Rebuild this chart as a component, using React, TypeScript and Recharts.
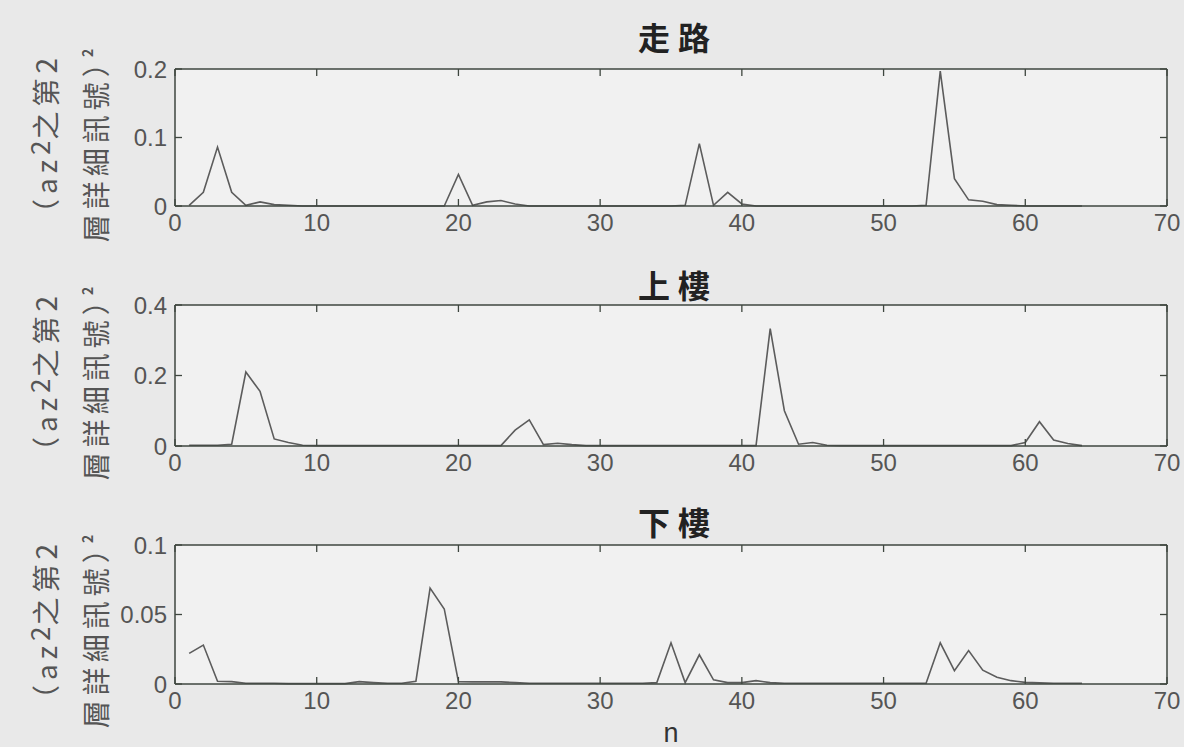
import React from "react";
import { LineChart, Line, XAxis, YAxis, CartesianGrid } from "recharts";

// n = 1..64
const N = [
  1, 2, 3, 4, 5, 6, 7, 8, 9, 10, 11, 12, 13, 14, 15, 16,
  17, 18, 19, 20, 21, 22, 23, 24, 25, 26, 27, 28, 29, 30, 31, 32,
  33, 34, 35, 36, 37, 38, 39, 40, 41, 42, 43, 44, 45, 46, 47, 48,
  49, 50, 51, 52, 53, 54, 55, 56, 57, 58, 59, 60, 61, 62, 63, 64,
];

// 走路
const WALK = [
  0.001, 0.02, 0.086, 0.02, 0.001, 0.006, 0.002, 0.001, 0, 0, 0, 0, 0, 0, 0, 0,
  0, 0, 0, 0.046, 0.001, 0.006, 0.008, 0.003, 0, 0, 0, 0, 0, 0, 0, 0,
  0, 0, 0, 0.001, 0.091, 0.001, 0.02, 0.003, 0, 0, 0, 0, 0, 0, 0, 0,
  0, 0, 0, 0, 0.001, 0.197, 0.04, 0.009, 0.007, 0.002, 0.001, 0, 0, 0, 0, 0,
];

// 上樓
const UP = [
  0.002, 0.002, 0.002, 0.005, 0.21, 0.155, 0.02, 0.01, 0.002, 0.001, 0.001, 0.001, 0.001, 0.001, 0.001, 0.001,
  0.001, 0.001, 0.001, 0.001, 0.001, 0.001, 0.001, 0.045, 0.074, 0.004, 0.008, 0.004, 0.001, 0.001, 0.001, 0.001,
  0.001, 0.001, 0.001, 0.001, 0.001, 0.001, 0.001, 0.001, 0.001, 0.333, 0.1, 0.005, 0.01, 0.002, 0.001, 0.001,
  0.001, 0.001, 0.001, 0.001, 0.001, 0.001, 0.001, 0.001, 0.001, 0.001, 0.001, 0.01, 0.069, 0.017, 0.007, 0.001,
];

// 下樓
const DOWN = [
  0.022, 0.028, 0.002, 0.0017, 0.0005, 0.0005, 0.0005, 0.0003, 0.0003, 0.0003, 0.0003, 0.0003, 0.0017, 0.001, 0.0005, 0.0005,
  0.002, 0.069, 0.054, 0.0017, 0.0015, 0.0015, 0.0015, 0.001, 0.0005, 0.0005, 0.0005, 0.0005, 0.0005, 0.0005, 0.0005, 0.0005,
  0.0005, 0.001, 0.0296, 0.001, 0.021, 0.003, 0.001, 0.001, 0.0024, 0.001, 0.0005, 0.0005, 0.0005, 0.0005, 0.0005, 0.0005,
  0.0005, 0.0005, 0.0005, 0.0005, 0.0005, 0.0296, 0.0096, 0.024, 0.01, 0.0048, 0.0024, 0.0012, 0.0008, 0.0005, 0.0005, 0.0005,
];

const X_TICKS = [0, 10, 20, 30, 40, 50, 60, 70];
const TITLES = ["走路", "上樓", "下樓"];
const Y_TICKS = [
  [0, 0.1, 0.2],
  [0, 0.2, 0.4],
  [0, 0.05, 0.1],
];

const AXIS = "#3e463f";
const LINE = "#5c5c5c";
const NUM_FONT = "'Liberation Sans', Arial, sans-serif";
const CJK_FONT = "'Noto Sans CJK TC', 'Noto Sans CJK SC', sans-serif";
const CHART_W = 1184;
const M_LEFT = 115;
const M_RIGHT = 17;
const Y_W = 60;
const TICK_LEN = 7;

// matlab style: label outside, tick marks inside on both sides of the box
function XTick({ x, y, payload, plotH }: any) {
  return (
    <g>
      <line x1={x} y1={y} x2={x} y2={y - TICK_LEN} stroke={AXIS} strokeWidth={1.3} />
      <line x1={x} y1={y - plotH} x2={x} y2={y - plotH + TICK_LEN} stroke={AXIS} strokeWidth={1.3} />
      <text x={x} y={y + 8} dy="0.71em" textAnchor="middle" fontSize={24} fill="#555" fontFamily={NUM_FONT}>
        {payload.value}
      </text>
    </g>
  );
}

function YTick({ x, y, payload, plotW }: any) {
  return (
    <g>
      <line x1={x} y1={y} x2={x + TICK_LEN} y2={y} stroke={AXIS} strokeWidth={1.3} />
      <line x1={x + plotW} y1={y} x2={x + plotW - TICK_LEN} y2={y} stroke={AXIS} strokeWidth={1.3} />
      <text x={x - 8} y={y} dy="0.36em" textAnchor="end" fontSize={24} fill="#555" fontFamily={NUM_FONT}>
        {String(payload.value)}
      </text>
    </g>
  );
}

function Panel({ values, yTicks, top, height, marginTop, marginBottom, xHeight, xLabel }: any) {
  const data = N.map((n, i) => ({ n, v: values[i] }));
  const yMax = yTicks[yTicks.length - 1];
  const plotH = height - marginTop - marginBottom - xHeight;
  const plotW = CHART_W - M_LEFT - M_RIGHT - Y_W;
  const frame = { stroke: AXIS, strokeWidth: 1.5 };
  return (
    <div style={{ position: "absolute", left: 0, top }}>
      <LineChart
        width={CHART_W}
        height={height}
        data={data}
        margin={{ top: marginTop, right: M_RIGHT, bottom: marginBottom, left: M_LEFT }}
      >
        <CartesianGrid horizontal={false} vertical={false} fill="#f1f1f1" />
        <XAxis
          xAxisId="x"
          dataKey="n"
          type="number"
          domain={[0, 70]}
          ticks={X_TICKS}
          interval={0}
          height={xHeight}
          tickSize={0}
          tickMargin={0}
          tickLine={false}
          axisLine={frame}
          tick={(p: any) => <XTick {...p} plotH={plotH} />}
          label={xLabel ? { value: xLabel, position: "insideBottom", offset: 2, style: { fontSize: 27, fill: "#333", fontFamily: NUM_FONT } } : undefined}
        />
        <XAxis xAxisId="xt" orientation="top" type="number" domain={[0, 70]} height={1} mirror tick={false} tickLine={false} axisLine={frame} />
        <YAxis
          yAxisId="y"
          type="number"
          width={Y_W}
          domain={[0, yMax]}
          ticks={yTicks}
          interval={0}
          tickSize={0}
          tickMargin={0}
          tickLine={false}
          axisLine={frame}
          tick={(p: any) => <YTick {...p} plotW={plotW} />}
        />
        <YAxis yAxisId="yr" orientation="right" type="number" domain={[0, yMax]} width={1} mirror tick={false} tickLine={false} axisLine={frame} />
        <Line
          xAxisId="x"
          yAxisId="y"
          dataKey="v"
          type="linear"
          stroke={LINE}
          strokeWidth={1.6}
          dot={false}
          isAnimationActive={false}
        />
      </LineChart>
    </div>
  );
}

function YLabel({ cy }: { cy: number }) {
  const base: React.CSSProperties = {
    position: "absolute",
    transform: "translate(-50%, -50%) rotate(-90deg)",
    whiteSpace: "nowrap",
    fontFamily: CJK_FONT,
    fontSize: 28,
    letterSpacing: 5,
    color: "#555",
    lineHeight: 1,
  };
  return (
    <>
      <div style={{ ...base, left: 42, top: cy }}>
        （az<sup style={{ fontSize: 26, verticalAlign: "7px", letterSpacing: 1 }}>2</sup>之第2
      </div>
      <div style={{ ...base, left: 94, top: cy + 3 }}>
        層詳細訊號<span style={{ letterSpacing: 0 }}>）</span>
        <sup style={{ fontSize: 14, fontWeight: 700, verticalAlign: "14px", marginLeft: -8 }}>2</sup>
      </div>
    </>
  );
}

function Title({ text, cy }: { text: string; cy: number }) {
  return (
    <div
      style={{
        position: "absolute",
        left: 678,
        top: cy,
        transform: "translate(-50%, -50%)",
        fontFamily: CJK_FONT,
        fontWeight: 700,
        fontSize: 32,
        letterSpacing: 8,
        color: "#222",
        whiteSpace: "nowrap",
        lineHeight: 1,
      }}
    >
      {text}
    </div>
  );
}

export default function App() {
  return (
    <div style={{ position: "absolute", left: 0, top: 0, width: 1184, height: 747, background: "#e9e9e9", overflow: "hidden" }}>
      <Panel values={WALK} yTicks={Y_TICKS[0]} top={0} height={240} marginTop={69} marginBottom={4} xHeight={30} />
      <Panel values={UP} yTicks={Y_TICKS[1]} top={240} height={240} marginTop={65} marginBottom={4} xHeight={30} />
      <Panel values={DOWN} yTicks={Y_TICKS[2]} top={480} height={267} marginTop={65} marginBottom={3} xHeight={60} xLabel="n" />
      <Title text={TITLES[0]} cy={36} />
      <Title text={TITLES[1]} cy={284} />
      <Title text={TITLES[2]} cy={521} />
      <YLabel cy={140} />
      <YLabel cy={378} />
      <YLabel cy={626} />
    </div>
  );
}
